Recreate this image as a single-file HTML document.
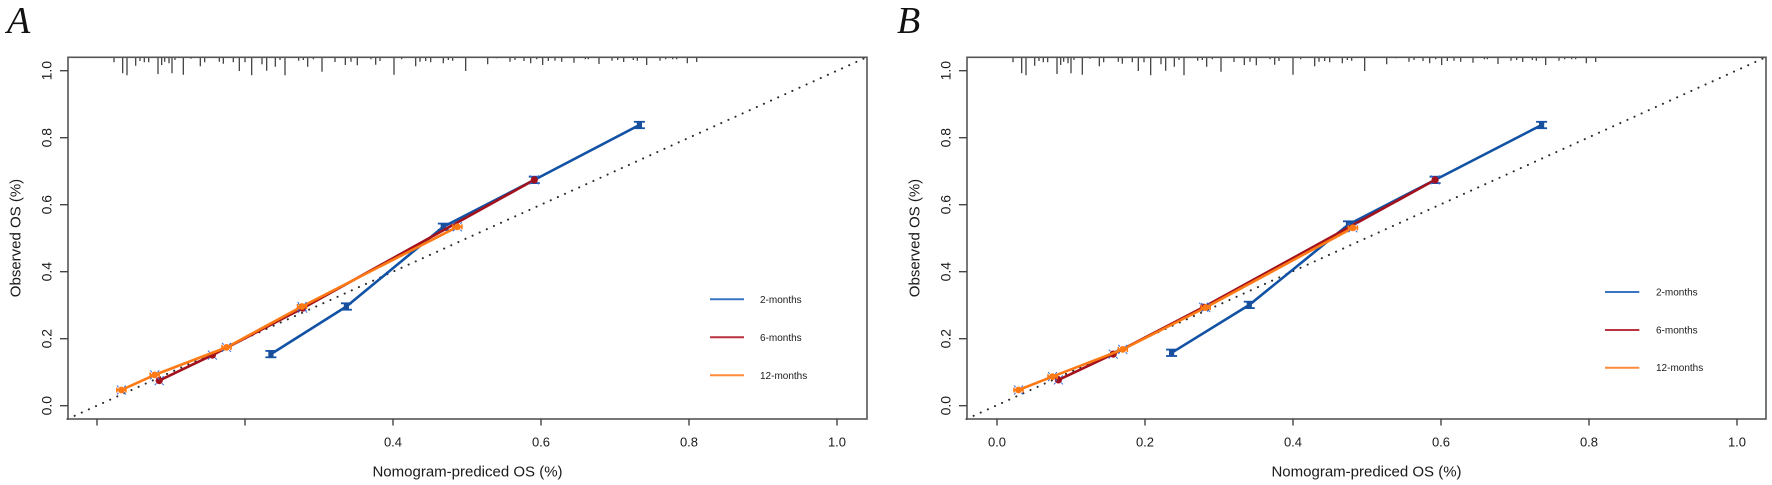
<!DOCTYPE html>
<html>
<head>
<meta charset="utf-8">
<style>
  html, body { margin: 0; padding: 0; background: #ffffff; }
  body { width: 1772px; height: 485px; overflow: hidden; }
  svg { display: block; }
  .ax { font-family: "Liberation Sans", Arial, sans-serif; fill: #1a1a1a; }
  .lt { font-family: "Liberation Serif", "Times New Roman", serif; font-style: italic; fill: #111; }
</style>
</head>
<body>
<svg width="1772" height="485" viewBox="0 0 1772 485" xmlns="http://www.w3.org/2000/svg">
  <defs>
    <path id="rug" fill="none" stroke="#333" stroke-width="1.2" d="
      M114 57.3V62.3 M122.7 57.3V73.3 M127 57.3V75.3 M135.7 57.3V65.7 M140 57.3V61 M144.3 57.3V62.3
      M148.7 57.3V62.3 M158 57.3V74 M161.7 57.3V65 M164.7 57.3V61.7 M169 57.3V63.3 M172 57.3V73.3
      M175 57.3V60 M183.3 57.3V74.7 M191 57.3V58.7 M200.3 57.3V66.3 M204.7 57.3V62.3 M219.3 57.3V61.7
      M223.3 57.3V63.7 M233.3 57.3V62.3 M239.3 57.3V71 M245 57.3V62.3 M251.7 57.3V75.3 M262 57.3V64.3
      M266.7 57.3V70.7 M275.3 57.3V66.7 M280 57.3V60 M285 57.3V75.3 M298.7 57.3V60.7 M303.3 57.3V60
      M307.7 57.3V66.7 M313.3 57.3V59.3 M322 57.3V71.7 M335 57.3V62 M345.3 57.3V65 M351 57.3V61.7
      M357.3 57.3V65.3 M371 57.3V59.3 M375.7 57.3V64.7 M380 57.3V61 M394 57.3V74.7 M401.7 57.3V59.3
      M415.7 57.3V66.3 M420 57.3V61.7 M425.7 57.3V61 M430.7 57.3V62.3 M443.3 57.3V63.3 M448.3 57.3V60
      M452.7 57.3V60.7 M465.7 57.3V71 M487.7 57.3V64.3 M496.7 57.3V58.3 M510 57.3V61.7 M515 57.3V60
      M524 57.3V61 M530.7 57.3V63.3 M536.7 57.3V59.3 M542.7 57.3V65 M548.3 57.3V61 M555 57.3V60.7
      M561.7 57.3V61.7 M574 57.3V62.7 M585.3 57.3V59.3 M588.3 57.3V59.3 M599 57.3V64 M612 57.3V60.7
      M617.7 57.3V60 M623.7 57.3V62 M633.3 57.3V60 M637.3 57.3V60.7 M646.7 57.3V65 M660 57.3V60.7
      M665.7 57.3V59.3 M672.7 57.3V59.3 M676.7 57.3V59.3 M687.3 57.3V63.3 M696.7 57.3V62"/>
    <g id="bm">
      <line x1="-5.5" y1="-3.2" x2="5.5" y2="-3.2" stroke="#1552a8" stroke-width="1.8"/>
      <line x1="-5.5" y1="3.2" x2="5.5" y2="3.2" stroke="#1552a8" stroke-width="1.8"/>
      <line x1="0" y1="-3.2" x2="0" y2="3.2" stroke="#1552a8" stroke-width="1.8"/>
      <rect x="-2.6" y="-2.6" width="5.2" height="5.2" fill="#1a4f9a"/>
    </g>
    <g id="rm">
      <path d="M-4.5 -4.5L-2.8 -2.8 M4.5 -4.5L2.8 -2.8 M-4.5 4.5L-2.8 2.8 M4.5 4.5L2.8 2.8" stroke="#3a6fe0" stroke-width="1"/>
      <circle r="3.6" fill="#a3121c"/>
    </g>
    <g id="om">
      <path d="M-4.5 -4.5L-2.8 -2.8 M4.5 -4.5L2.8 -2.8 M-4.5 4.5L-2.8 2.8 M4.5 4.5L2.8 2.8" stroke="#3a6fe0" stroke-width="1"/>
      <line x1="-4.5" y1="-2.5" x2="-4.5" y2="2.5" stroke="#ff7a14" stroke-width="1.6"/>
      <line x1="4.5" y1="-2.5" x2="4.5" y2="2.5" stroke="#ff7a14" stroke-width="1.6"/>
      <line x1="-4.5" y1="0" x2="4.5" y2="0" stroke="#ff7a14" stroke-width="1.6"/>
      <circle r="3.4" fill="#ff7a14"/>
    </g>
  </defs>

  <!-- ================= PANEL A ================= -->
  <text class="lt" x="7" y="33" font-size="38">A</text>

  <use href="#rug"/>

  <!-- diagonal -->
  <line x1="67.5" y1="419" x2="866.6" y2="57.3" stroke="#2a2a2a" stroke-width="2" stroke-linecap="round" stroke-dasharray="0.1 7.7"/>

  <!-- series -->
  <polyline fill="none" stroke="#1252a4" stroke-width="2.6" stroke-linejoin="round"
    points="270.9,354.1 346.4,306.5 443.3,226.8 534.3,179.9 639.4,125.0"/>
  <use href="#bm" x="270.9" y="354.1"/><use href="#bm" x="346.4" y="306.5"/><use href="#bm" x="443.3" y="226.8"/><use href="#bm" x="534.3" y="179.9"/><use href="#bm" x="639.4" y="125.0"/>
  <polyline fill="none" stroke="#a3121c" stroke-width="2.6" stroke-linejoin="round"
    points="159.2,380.6 212.4,355.1 302.7,308.2 534.3,179.9"/>
  <use href="#rm" x="159.2" y="380.6"/><use href="#rm" x="212.4" y="355.1"/><use href="#rm" x="302.7" y="308.2"/><use href="#rm" x="534.3" y="179.9"/>
  <polyline fill="none" stroke="#ff7a14" stroke-width="2.6" stroke-linejoin="round"
    points="121.4,390.0 154.7,374.9 226.5,347.4 302.0,306.5 457.4,226.8"/>
  <use href="#om" x="121.4" y="390.0"/><use href="#om" x="154.7" y="374.9"/><use href="#om" x="226.5" y="347.4"/><use href="#om" x="302.0" y="306.5"/><use href="#om" x="457.4" y="226.8"/>

  <!-- box -->
  <rect x="68" y="57.3" width="799" height="361.7" fill="none" stroke="#555" stroke-width="1.6"/>

  <!-- y axis ticks -->
  <path stroke="#444" stroke-width="1.4" d="M60 405.7H68 M60 338.7H68 M60 271.7H68 M60 204.7H68 M60 137.7H68 M60 70.7H68"/>
  <g class="ax" font-size="14" text-anchor="middle">
    <text transform="translate(51.7,405.7) rotate(-90)">0.0</text>
    <text transform="translate(51.7,338.7) rotate(-90)">0.2</text>
    <text transform="translate(51.7,271.7) rotate(-90)">0.4</text>
    <text transform="translate(51.7,204.7) rotate(-90)">0.6</text>
    <text transform="translate(51.7,137.7) rotate(-90)">0.8</text>
    <text transform="translate(51.7,70.7) rotate(-90)">1.0</text>
  </g>
  <text class="ax" font-size="15" text-anchor="middle" transform="translate(20.5,238) rotate(-90)">Observed OS (%)</text>

  <!-- x axis ticks -->
  <path stroke="#444" stroke-width="1.4" d="M97 419V425.5 M245 419V425.5 M393 419V425.5 M541 419V425.5 M689 419V425.5 M837 419V425.5"/>
  <g class="ax" font-size="13" text-anchor="middle">
    <text x="393" y="446.7">0.4</text>
    <text x="541" y="446.7">0.6</text>
    <text x="689" y="446.7">0.8</text>
    <text x="837" y="446.7">1.0</text>
  </g>
  <text class="ax" font-size="15" text-anchor="middle" x="467.5" y="476.7">Nomogram-prediced OS (%)</text>

  <!-- legend A -->
  <line x1="710" y1="299.3" x2="744" y2="299.3" stroke="#3a74c2" stroke-width="2"/>
  <line x1="710" y1="337.3" x2="744" y2="337.3" stroke="#b83240" stroke-width="2"/>
  <line x1="710" y1="375.3" x2="744" y2="375.3" stroke="#ff8c3c" stroke-width="2"/>
  <g class="ax" font-size="10">
    <text x="760" y="302.8">2-months</text>
    <text x="760" y="340.8">6-months</text>
    <text x="760" y="378.8">12-months</text>
  </g>

  <!-- ================= PANEL B ================= -->
  <text class="lt" x="897" y="33" font-size="38">B</text>

  <use href="#rug" transform="translate(899,0)"/>

  <line x1="966.5" y1="419" x2="1765.6" y2="57.3" stroke="#2a2a2a" stroke-width="2" stroke-linecap="round" stroke-dasharray="0.1 7.7"/>

  <polyline fill="none" stroke="#1252a4" stroke-width="2.6" stroke-linejoin="round"
    points="1171.6,352.8 1249.3,304.9 1348.5,224.5 1435.1,179.9 1541.6,125.0"/>
  <use href="#bm" x="1171.6" y="352.8"/><use href="#bm" x="1249.3" y="304.9"/><use href="#bm" x="1348.5" y="224.5"/><use href="#bm" x="1435.1" y="179.9"/><use href="#bm" x="1541.6" y="125.0"/>
  <polyline fill="none" stroke="#a3121c" stroke-width="2.6" stroke-linejoin="round"
    points="1058.4,379.9 1113.2,354.1 1203.5,307.2 1435.1,179.9"/>
  <use href="#rm" x="1058.4" y="379.9"/><use href="#rm" x="1113.2" y="354.1"/><use href="#rm" x="1203.5" y="307.2"/><use href="#rm" x="1435.1" y="179.9"/>
  <polyline fill="none" stroke="#ff7a14" stroke-width="2.6" stroke-linejoin="round"
    points="1018.5,390.0 1052.5,376.6 1122.8,349.4 1205.7,307.5 1352.9,227.8"/>
  <use href="#om" x="1018.5" y="390.0"/><use href="#om" x="1052.5" y="376.6"/><use href="#om" x="1122.8" y="349.4"/><use href="#om" x="1205.7" y="307.5"/><use href="#om" x="1352.9" y="227.8"/>

  <rect x="967" y="57.3" width="799" height="361.7" fill="none" stroke="#555" stroke-width="1.6"/>

  <path stroke="#444" stroke-width="1.4" d="M959 405.7H967 M959 338.7H967 M959 271.7H967 M959 204.7H967 M959 137.7H967 M959 70.7H967"/>
  <g class="ax" font-size="14" text-anchor="middle">
    <text transform="translate(950.7,405.7) rotate(-90)">0.0</text>
    <text transform="translate(950.7,338.7) rotate(-90)">0.2</text>
    <text transform="translate(950.7,271.7) rotate(-90)">0.4</text>
    <text transform="translate(950.7,204.7) rotate(-90)">0.6</text>
    <text transform="translate(950.7,137.7) rotate(-90)">0.8</text>
    <text transform="translate(950.7,70.7) rotate(-90)">1.0</text>
  </g>
  <text class="ax" font-size="15" text-anchor="middle" transform="translate(919.5,238) rotate(-90)">Observed OS (%)</text>

  <path stroke="#444" stroke-width="1.4" d="M997 419V425.5 M1145 419V425.5 M1293 419V425.5 M1441 419V425.5 M1589 419V425.5 M1737 419V425.5"/>
  <g class="ax" font-size="13" text-anchor="middle">
    <text x="997" y="446.7">0.0</text>
    <text x="1145" y="446.7">0.2</text>
    <text x="1293" y="446.7">0.4</text>
    <text x="1441" y="446.7">0.6</text>
    <text x="1589" y="446.7">0.8</text>
    <text x="1737" y="446.7">1.0</text>
  </g>
  <text class="ax" font-size="15" text-anchor="middle" x="1366.5" y="476.7">Nomogram-prediced OS (%)</text>

  <!-- legend B -->
  <line x1="1605" y1="292" x2="1639.3" y2="292" stroke="#3a74c2" stroke-width="2"/>
  <line x1="1605" y1="330" x2="1639.3" y2="330" stroke="#b83240" stroke-width="2"/>
  <line x1="1605" y1="367.7" x2="1639.3" y2="367.7" stroke="#ff8c3c" stroke-width="2"/>
  <g class="ax" font-size="10">
    <text x="1656" y="295.5">2-months</text>
    <text x="1656" y="333.5">6-months</text>
    <text x="1656" y="371.2">12-months</text>
  </g>
</svg>
</body>
</html>
